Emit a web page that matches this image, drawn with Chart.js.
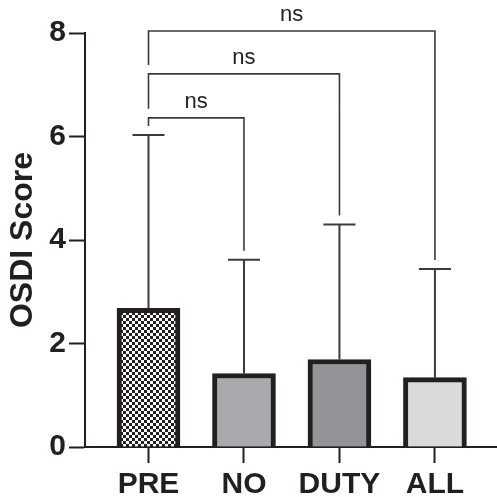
<!DOCTYPE html>
<html>
<head>
<meta charset="utf-8">
<script src="https://cdn.jsdelivr.net/npm/chart.js@4.4.1/dist/chart.umd.min.js"></script>
<style>
  html, body { margin: 0; padding: 0; background: #fff; }
  canvas { display: block; }
</style>
</head>
<body>
<canvas id="chart" width="497" height="497"></canvas>
<script>
// groups and values
const categories = ['PRE', 'NO', 'DUTY', 'ALL'];
const means = [2.68, 1.42, 1.69, 1.34];
const upperErr = [6.03, 3.62, 4.30, 3.44];   // mean + SD (cap position)
const yTicks = [0, 2, 4, 6, 8];

// significance brackets: PRE vs each group
const bracketFrom = [0, 0, 0];
const bracketTo = [1, 2, 3];
const bracketLevel = [6.36, 7.21, 8.04];
const bracketText = ['ns', 'ns', 'ns'];

const ink = '#231f20';
const lineInk = '#3a3a3a';
const font = "'Liberation Sans', Arial, Helvetica, sans-serif";

function checker() {
    const c = document.createElement('canvas');
    c.width = 6; c.height = 6;
    const g = c.getContext('2d');
    g.fillStyle = '#fff';
    g.fillRect(0, 0, 6, 6);
    g.fillStyle = ink;
    g.fillRect(0, 0, 3, 3);
    g.fillRect(3, 3, 3, 3);
    return g.createPattern(c, 'repeat');
}

const ctxEl = document.getElementById('chart');
const fills = [checker(), '#a7a9ac', '#929497', '#d9dadb'];

const errorBars = {
    id: 'errorBars',
    afterDatasetsDraw(chart) {
        const ctx = chart.ctx;
        const xs = chart.scales.x, ys = chart.scales.y;
        ctx.save();
        ctx.strokeStyle = lineInk;
        ctx.lineWidth = 2;
        upperErr.forEach((v, i) => {
            const x = xs.getPixelForValue(i + 1);
            const top = ys.getPixelForValue(v);
            const base = ys.getPixelForValue(means[i]);
            ctx.beginPath();
            ctx.moveTo(x, base);
            ctx.lineTo(x, top);
            ctx.moveTo(x - 16, top);
            ctx.lineTo(x + 16, top);
            ctx.stroke();
        });

        // brackets
        const gap = 9;
        ctx.lineWidth = 1.6;
        ctx.fillStyle = '#222';
        ctx.font = '22px ' + font;
        ctx.textAlign = 'center';
        ctx.textBaseline = 'alphabetic';
        bracketLevel.forEach((lvl, k) => {
            const a = bracketFrom[k], b = bracketTo[k];
            const xa = xs.getPixelForValue(a + 1);
            const xb = xs.getPixelForValue(b + 1);
            const y = ys.getPixelForValue(lvl);
            const below = k === 0 ? ys.getPixelForValue(upperErr[a]) : ys.getPixelForValue(bracketLevel[k - 1]);
            const leftEnd = below - gap;
            const rightEnd = ys.getPixelForValue(upperErr[b]) - gap;
            ctx.beginPath();
            ctx.moveTo(xa, leftEnd);
            ctx.lineTo(xa, y);
            ctx.lineTo(xb, y);
            ctx.lineTo(xb, rightEnd);
            ctx.stroke();
            ctx.fillText(bracketText[k], (xa + xb) / 2, y - 10);
        });
        ctx.restore();
    }
};

new Chart(ctxEl, {
    type: 'bar',
    data: {
        datasets: [{
            data: means.map((m, i) => ({ x: i + 1, y: m })),
            backgroundColor: fills,
            borderColor: ink,
            borderWidth: 5,
            borderSkipped: 'bottom',
            barThickness: 63
        }]
    },
    options: {
        responsive: false,
        animation: false,
        layout: { padding: { top: 33, right: 0, left: 0, bottom: 0 } },
        plugins: { legend: { display: false }, tooltip: { enabled: false } },
        scales: {
            x: {
                type: 'linear',
                offset: false,
                min: 0.335,
                max: 4.65,
                afterBuildTicks(scale) {
                    scale.ticks = categories.map((c, i) => ({ value: i + 1 }));
                },
                afterFit(scale) { scale.height = 50; },
                ticks: {
                    callback: v => categories[v - 1],
                    color: ink,
                    font: { family: font, size: 30, weight: 'bold' },
                    padding: 4,
                    maxRotation: 0,
                    autoSkip: false
                },
                grid: { offset: false, drawOnChartArea: false, drawTicks: true, tickLength: 16, tickWidth: 2, tickColor: ink },
                border: { color: ink, width: 2 }
            },
            y: {
                min: 0,
                max: 8,
                afterBuildTicks(scale) {
                    scale.ticks = yTicks.map(v => ({ value: v }));
                },
                afterFit(scale) { scale.width = 85; },
                ticks: {
                    color: ink,
                    font: { family: font, size: 30, weight: 'bold' },
                    padding: 3
                },
                title: {
                    display: true,
                    text: 'OSDI Score',
                    color: ink,
                    font: { family: font, size: 32, weight: 'bold' },
                    padding: { top: 4, bottom: 0 }
                },
                grid: { drawOnChartArea: false, drawTicks: true, tickLength: 16, tickWidth: 2, tickColor: ink },
                border: { color: ink, width: 2 }
            }
        }
    },
    plugins: [errorBars]
});
</script>
</body>
</html>
